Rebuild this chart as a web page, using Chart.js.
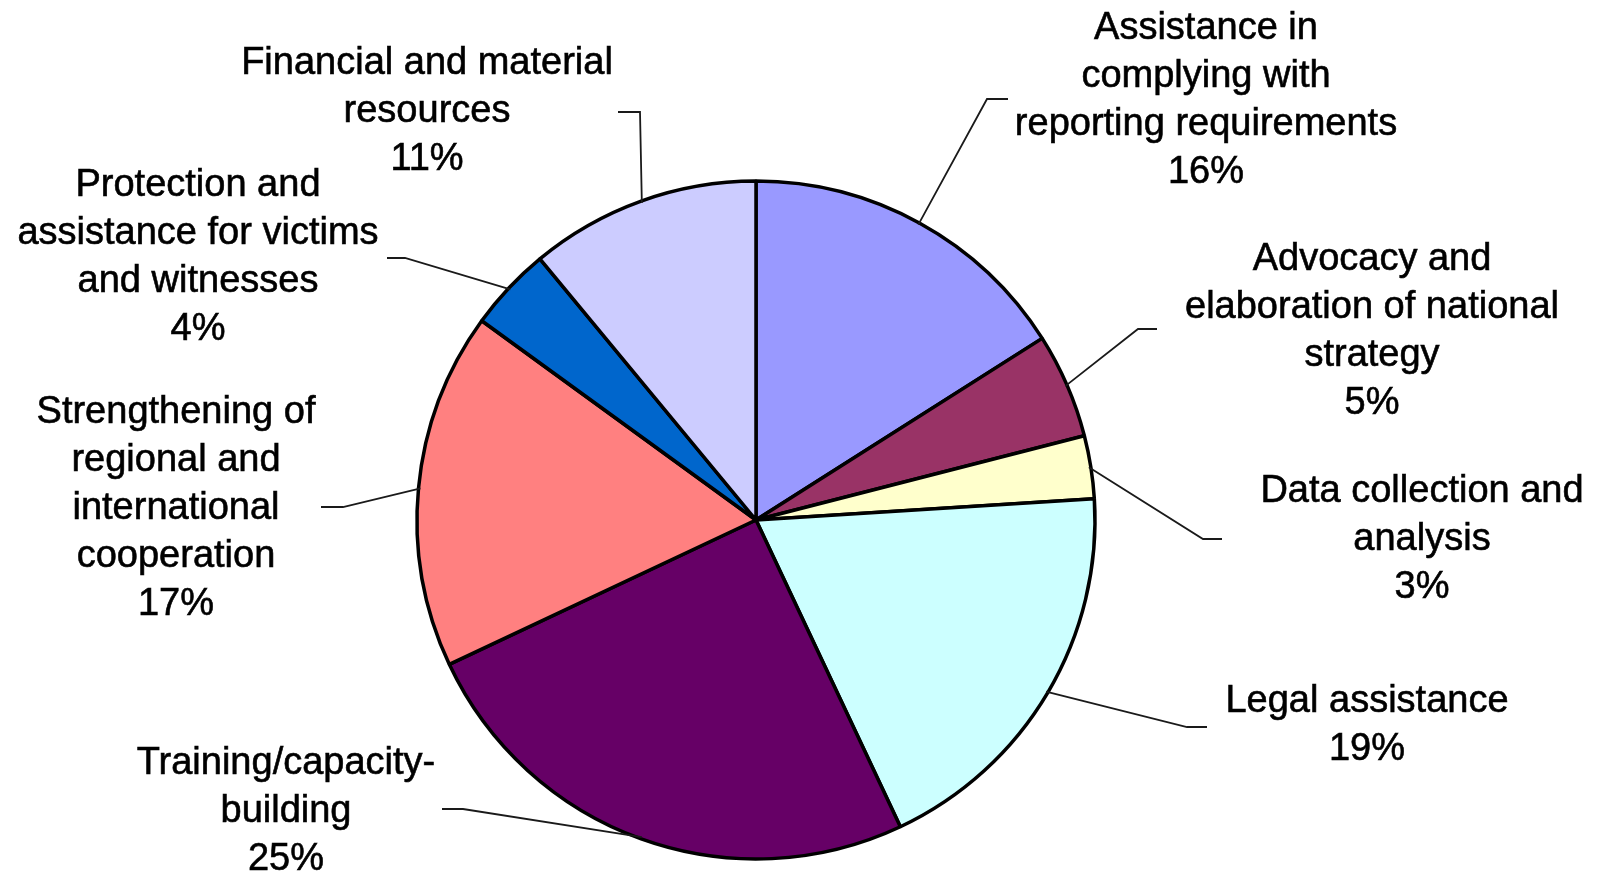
<!DOCTYPE html>
<html>
<head>
<meta charset="utf-8">
<title>Pie chart</title>
<script src="https://cdn.jsdelivr.net/npm/chart.js@4/dist/chart.umd.min.js"></script>
<style>
  html, body { margin: 0; padding: 0; background: #fff; }
  #pie { display: block; }
</style>
</head>
<body>
<canvas id="pie" width="1603" height="872"></canvas>
<script>
// categories (line breaks as in the picture)
let categories = [
  ['Assistance in', 'complying with', 'reporting requirements'],
  ['Advocacy and', 'elaboration of national', 'strategy'],
  ['Data collection and', 'analysis'],
  ['Legal assistance'],
  ['Training/capacity-', 'building'],
  ['Strengthening of', 'regional and', 'international', 'cooperation'],
  ['Protection and', 'assistance for victims', 'and witnesses'],
  ['Financial and material', 'resources']
];
let shares = [16, 5, 3, 19, 25, 17, 4, 11];
let sliceColors = ['#9999FF', '#993366', '#FFFFCC', '#CCFFFF', '#660066', '#FF8080', '#0066CC', '#CCCCFF'];

// where each label sits: centre x, first baseline, leader elbow and end
let labelLayout = [
  { x: 1206, y: 39,  elbow: [987, 99],   end: [1008, 99] },
  { x: 1372, y: 270, elbow: [1138, 329], end: [1157, 329] },
  { x: 1422, y: 502, elbow: [1203, 539], end: [1222, 539] },
  { x: 1367, y: 712, elbow: [1187, 727], end: [1207, 727] },
  { x: 286,  y: 774, elbow: [463, 809],  end: [442, 809] },
  { x: 176,  y: 423, elbow: [343, 507],  end: [321, 507] },
  { x: 198,  y: 196, elbow: [405, 258],  end: [387, 258] },
  { x: 427,  y: 74,  elbow: [640, 112],  end: [618, 112] }
];

let fontSize = 38;
let lineGap = 48;

const outsideLabels = {
  id: 'outsideLabels',
  afterDraw(chart) {
    const ctx = chart.ctx;
    const meta = chart.getDatasetMeta(0);
    const total = shares.reduce((a, b) => a + b, 0);
    ctx.save();
    meta.data.forEach((arc, i) => {
      const p = arc.getProps(['x', 'y', 'startAngle', 'endAngle', 'outerRadius'], true);
      const mid = (p.startAngle + p.endAngle) / 2;
      const sx = p.x + Math.cos(mid) * (p.outerRadius - 2);
      const sy = p.y + Math.sin(mid) * (p.outerRadius - 2);
      const lay = labelLayout[i];

      // leader line
      ctx.strokeStyle = '#1a1a1a';
      ctx.lineWidth = 1.8;
      ctx.beginPath();
      ctx.moveTo(sx, sy);
      ctx.lineTo(lay.elbow[0], lay.elbow[1]);
      ctx.lineTo(lay.end[0], lay.end[1]);
      ctx.stroke();

      // text
      const lines = categories[i].concat([Math.round(shares[i] / total * 100) + '%']);
      ctx.fillStyle = '#000';
      ctx.strokeStyle = '#000';
      ctx.lineWidth = 0.6;
      ctx.font = fontSize + 'px "Liberation Sans", Arial, sans-serif';
      ctx.textAlign = 'center';
      ctx.textBaseline = 'alphabetic';
      lines.forEach((t, k) => {
        ctx.fillText(t, lay.x, lay.y + k * lineGap);
        ctx.strokeText(t, lay.x, lay.y + k * lineGap);
      });
    });
    ctx.restore();
  }
};

const ctx = document.getElementById('pie').getContext('2d');
const chart = new Chart(ctx, {
  type: 'pie',
  data: {
    labels: categories.map(c => c.join(' ')),
    datasets: [{
      data: shares,
      backgroundColor: sliceColors,
      borderColor: '#000',
      borderWidth: 3.5
    }]
  },
  options: {
    responsive: false,
    animation: false,
    radius: 339,
    layout: { padding: { left: 0, right: 91, top: 168, bottom: 0 } },
    plugins: {
      legend: { display: false },
      tooltip: { enabled: false }
    }
  },
  plugins: [outsideLabels]
});
</script>
</body>
</html>
